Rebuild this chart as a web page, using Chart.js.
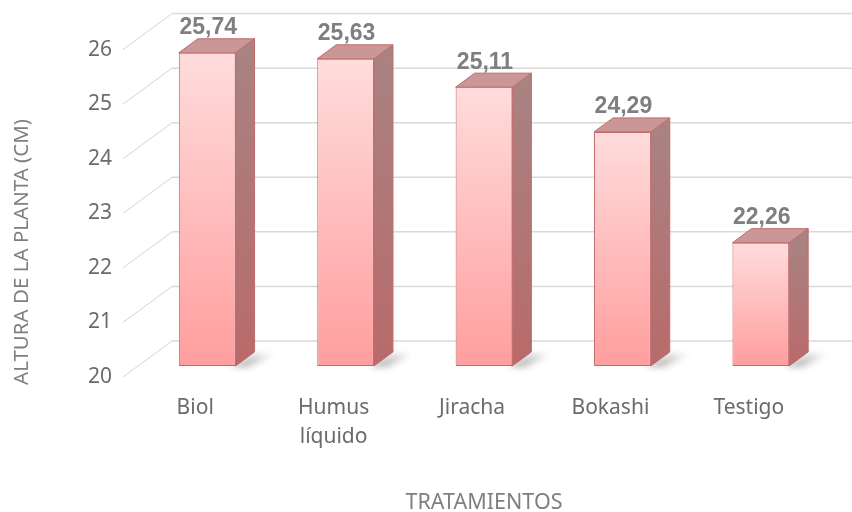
<!DOCTYPE html>
<html>
<head>
<meta charset="utf-8">
<script src="https://cdn.jsdelivr.net/npm/chart.js@4/dist/chart.umd.min.js"></script>
<style>
	html, body { margin: 0; padding: 0; background: #fff; }
	#wrap { width: 852px; height: 512px; }
</style>
</head>
<body>
<div id="wrap"><canvas id="chart" width="852" height="512"></canvas></div>
<script>
/* Altura de la planta por tratamiento -- 3D-style bar chart */

const CATEGORIES = [["Biol"], ["Humus", "líquido"], ["Jiracha"], ["Bokashi"], ["Testigo"]];
const ALTURA = [25.74, 25.63, 25.11, 24.29, 22.26];
const Y_MIN = 20;
const Y_MAX = 26;
const Y_STEP = 1;

const COLORS = {
	faceTop: "#ffdcdc",
	faceBottom: "#ff9e9e",
	border: "#c26a6a",
	sideTop: "#a98282",
	sideBottom: "#b96a6a",
	top: "#c99797",
	grid: "#d9d9d9",
	diag: "#cdd6d6",
	tick: "#6b6b6b",
	label: "#7f7f7f",
};

// offsets of the 3D planes, relative to the plane of the bar fronts
const BACK = { dx: 34, dy: -25 };
const FRONT = { dx: -15, dy: 11 };
const DEPTH = { dx: 19, dy: -14 };

const TICK_FONT = { family: "'Noto Sans', sans-serif", size: 21 };

const depthPlugin = {
	id: "depth3d",
	beforeDatasetsDraw(chart) {
		const { ctx, chartArea } = chart;
		const y = chart.scales.y;
		ctx.save();
		// back wall gridlines + left wall diagonals
		for (let v = Y_MIN; v <= Y_MAX; v += Y_STEP) {
			const py = y.getPixelForValue(v);
			ctx.strokeStyle = COLORS.grid;
			ctx.lineWidth = 1.5;
			ctx.beginPath();
			ctx.moveTo(chartArea.left + BACK.dx, py + BACK.dy);
			ctx.lineTo(chart.width, py + BACK.dy);
			ctx.stroke();
			ctx.strokeStyle = COLORS.diag;
			ctx.lineWidth = 1;
			ctx.beginPath();
			ctx.moveTo(chartArea.left + FRONT.dx, py + FRONT.dy);
			ctx.lineTo(chartArea.left + BACK.dx, py + BACK.dy);
			ctx.stroke();
		}
		// soft shadows at the foot of the bars
		const base = y.getPixelForValue(Y_MIN);
		const meta = chart.getDatasetMeta(0);
		meta.data.forEach(bar => {
			const right = bar.x + bar.width / 2;
			ctx.save();
			ctx.filter = "blur(3px)";
			const g = ctx.createLinearGradient(right, 0, right + 40, 0);
			g.addColorStop(0, "rgba(90,90,90,0.55)");
			g.addColorStop(1, "rgba(90,90,90,0)");
			ctx.fillStyle = g;
			ctx.beginPath();
			ctx.moveTo(right - 4, base + 1);
			ctx.lineTo(right + DEPTH.dx, base + DEPTH.dy + 2);
			ctx.lineTo(right + DEPTH.dx + 22, base + DEPTH.dy + 2);
			ctx.lineTo(right + 14, base + 1);
			ctx.closePath();
			ctx.fill();
			ctx.restore();
		});
		ctx.restore();
	},
	afterDatasetsDraw(chart) {
		const { ctx } = chart;
		const base = chart.scales.y.getPixelForValue(Y_MIN);
		const meta = chart.getDatasetMeta(0);
		ctx.save();
		meta.data.forEach((bar, i) => {
			const left = bar.x - bar.width / 2;
			const right = bar.x + bar.width / 2;
			const top = bar.y;
			// side face
			const sg = ctx.createLinearGradient(0, top, 0, base);
			sg.addColorStop(0, COLORS.sideTop);
			sg.addColorStop(1, COLORS.sideBottom);
			ctx.fillStyle = sg;
			ctx.strokeStyle = COLORS.border;
			ctx.lineWidth = 1;
			ctx.beginPath();
			ctx.moveTo(right, top);
			ctx.lineTo(right + DEPTH.dx, top + DEPTH.dy);
			ctx.lineTo(right + DEPTH.dx, base + DEPTH.dy);
			ctx.lineTo(right, base);
			ctx.closePath();
			ctx.fill();
			ctx.stroke();
			// top face
			ctx.fillStyle = COLORS.top;
			ctx.beginPath();
			ctx.moveTo(left, top);
			ctx.lineTo(left + DEPTH.dx, top + DEPTH.dy);
			ctx.lineTo(right + DEPTH.dx, top + DEPTH.dy);
			ctx.lineTo(right, top);
			ctx.closePath();
			ctx.fill();
			ctx.stroke();
			// value label
			ctx.fillStyle = COLORS.label;
			ctx.font = "bold 23px 'Liberation Sans', Arial, sans-serif";
			ctx.textAlign = "center";
			ctx.textBaseline = "middle";
			ctx.fillText(ALTURA[i].toFixed(2).replace(".", ","), bar.x + 1, top - 25);
		});
		// y axis title
		ctx.translate(22, 252);
		ctx.rotate(-Math.PI / 2);
		ctx.fillStyle = COLORS.label;
		ctx.font = "20.5px 'Noto Sans', sans-serif";
		ctx.textAlign = "center";
		ctx.textBaseline = "middle";
		ctx.fillText("ALTURA DE LA PLANTA (CM)", 0, 0);
		ctx.restore();
	},
};

new Chart(document.getElementById("chart"), {
	type: "bar",
	data: {
		labels: CATEGORIES,
		datasets: [{
			label: "Altura",
			data: ALTURA,
			base: Y_MIN,
			backgroundColor: context => {
				const chart = context.chart;
				if (!chart.chartArea || context.parsed === undefined) return COLORS.faceBottom;
				const y = chart.scales.y;
				const top = y.getPixelForValue(context.parsed.y);
				const base = y.getPixelForValue(Y_MIN);
				const g = chart.ctx.createLinearGradient(0, top, 0, base);
				g.addColorStop(0, COLORS.faceTop);
				g.addColorStop(1, COLORS.faceBottom);
				return g;
			},
			borderColor: COLORS.border,
			borderWidth: 1,
			borderSkipped: false,
			barPercentage: 0.41,
			categoryPercentage: 1,
		}],
	},
	options: {
		responsive: false,
		animation: false,
		layout: { padding: { top: 36, right: 22, left: 0, bottom: 0 } },
		plugins: {
			legend: { display: false },
			tooltip: { enabled: false },
		},
		scales: {
			x: {
				grid: { display: false, drawTicks: false },
				border: { display: false },
				ticks: {
					color: COLORS.tick,
					font: { ...TICK_FONT, lineHeight: 1.4 },
					padding: 27,
					labelOffset: -12,
					maxRotation: 0,
					autoSkip: false,
				},
				title: {
					display: true,
					text: "TRATAMIENTOS",
					color: COLORS.label,
					font: { family: "'Noto Sans', sans-serif", size: 21.5, lineHeight: 0.84 },
					padding: { top: 0, bottom: 0 },
				},
				afterFit(scale) { scale.height = 146; },
			},
			y: {
				min: Y_MIN,
				max: Y_MAX,
				grid: { display: false, drawTicks: false },
				border: { display: false },
				ticks: {
					stepSize: Y_STEP,
					color: COLORS.tick,
					font: TICK_FONT,
					padding: 26,
					labelOffset: 11,
				},
				afterFit(scale) { scale.width = 138; },
			},
		},
	},
	plugins: [depthPlugin],
});
</script>
</body>
</html>
